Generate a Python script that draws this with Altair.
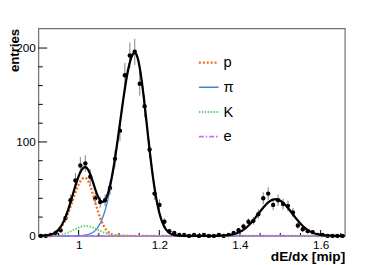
import altair as alt
import pandas as pd

# ---- histogram (bin centres, entries) ----
x_centers = [0.9061, 0.9184, 0.9306, 0.9429, 0.9552, 0.9674, 0.9797, 0.9919, 1.0042, 1.0165,
             1.0287, 1.0410, 1.0532, 1.0655, 1.0777, 1.0900, 1.1023, 1.1145, 1.1268, 1.1390,
             1.1513, 1.1635, 1.1758, 1.1881, 1.2003, 1.2126, 1.2248, 1.2371, 1.2494, 1.2616,
             1.2739, 1.2861, 1.2984, 1.3106, 1.3229, 1.3352, 1.3474, 1.3597, 1.3719, 1.3842,
             1.3965, 1.4087, 1.4210, 1.4332, 1.4455, 1.4577, 1.4700, 1.4823, 1.4945, 1.5068,
             1.5190, 1.5313, 1.5435, 1.5558, 1.5681, 1.5803, 1.5926, 1.6048, 1.6171, 1.6294,
             1.6416, 1.6539]
counts = [0, 0, 1, 3, 6, 19, 38, 59, 75, 77,
          63, 40, 36, 38, 51, 82, 112, 171, 192, 196,
          162, 138, 92, 45, 33, 15, 5, 3, 1, 1,
          0, 1, 0, 1, 0, 0, 1, 0, 1, 3,
          6, 10, 15, 16, 23, 40, 45, 33, 38, 34,
          32, 25, 11, 7, 5, 4, 1, 1, 0, 0,
          0, 0]

# ---- fit components (amplitude, mean, left/right sigma) ----
comp_keys = ["c_p", "c_pi", "c_K", "c_e"]
comp_labels = ["p", "π", "K", "e"]
comp_amp = [62.0, 195.0, 10.5, 0.0]
comp_mean = [1.015, 1.139, 1.018, 1.30]
comp_sig_left = [0.030, 0.037, 0.030, 0.05]
comp_sig_right = [0.025, 0.030, 0.030, 0.05]
comp_colors = ["#f26b1d", "#3f86d8", "#5cd65c", "#c86bff"]
comp_dash = [[2, 2], [1, 0], [1.5, 1.5], [5, 2, 1.5, 2]]
comp_width = [2.4, 1.4, 2.0, 1.6]

# extra peak only contained in the total fit
extra_amp = 39.0
extra_mean = 1.488
extra_sig = 0.042

# ---- axis ticks ----
y_major = [0, 100, 200]
y_minor = [20, 40, 60, 80, 120, 140, 160, 180]
x_major = [1.0, 1.2, 1.4, 1.6]
x_minor = [0.95, 1.05, 1.1, 1.15, 1.25, 1.3, 1.35, 1.45, 1.5, 1.55, 1.65]

FONT = "Liberation Sans"
W, H = 313, 212
xscale = alt.Scale(domain=[0.9, 1.66], nice=False, zero=False)
yscale = alt.Scale(domain=[0, 221], nice=False, zero=True)

XAXIS = alt.Axis(values=x_major, format="~g", ticks=False, domain=False,
                 grid=False, labelFontSize=12, labelPadding=4, labelFlush=False,
                 labelColor="black", title="dE/dx [mip]", titleFontSize=14,
                 titleFontWeight="bold", titleX=W, titleY=25, titleAlign="right",
                 titleBaseline="alphabetic", titleColor="black")
YAXIS = alt.Axis(values=y_major, ticks=False, domain=False, grid=False,
                 labelFontSize=12, labelPadding=3, labelColor="black",
                 title="entries", titleFontSize=13.5, titleFontWeight="bold",
                 titleAngle=270, titleAlign="right", titleBaseline="alphabetic",
                 titleX=-20, titleY=0, titleColor="black")


def X(field):
    return alt.X(field, scale=xscale, axis=XAXIS)


def Y(field):
    return alt.Y(field, scale=yscale, axis=YAXIS)


data = pd.DataFrame({"x": x_centers, "n": counts})


def gexpr(a, m, sl, sr):
    return f"{a}*exp(-0.5*pow((datum.x-{m})/(datum.x<{m}?{sl}:{sr}),2))"


calc = {k: gexpr(a, m, sl, sr) for k, a, m, sl, sr in
        zip(comp_keys, comp_amp, comp_mean, comp_sig_left, comp_sig_right)}
calc["c_d"] = gexpr(extra_amp, extra_mean, extra_sig, extra_sig)
curves = (alt.Chart(alt.sequence(0.9, 1.6605, 0.002, as_="x"))
          .transform_calculate(**calc)
          .transform_calculate(total="+".join(f"datum.{k}" for k in comp_keys + ["c_d"])))

errbars = alt.Chart(data).transform_calculate(
    lo="datum.n - sqrt(datum.n)", hi="datum.n + sqrt(datum.n)"
).mark_rule(color="#8a8a8a", strokeWidth=1.1).encode(x=X("x:Q"), y=Y("lo:Q"), y2="hi:Q")

# ticks (inside the frame, ROOT style)
ymaj = alt.Chart(pd.DataFrame({"v": y_major})).mark_rule(color="black", strokeWidth=1).encode(
    y=Y("v:Q"), x=alt.value(0), x2=alt.value(9))
ymin = alt.Chart(pd.DataFrame({"v": y_minor})).mark_rule(color="black", strokeWidth=1).encode(
    y=Y("v:Q"), x=alt.value(0), x2=alt.value(4.5))
xmaj = alt.Chart(pd.DataFrame({"v": x_major})).mark_rule(color="black", strokeWidth=1).encode(
    x=X("v:Q"), y=alt.value(H), y2=alt.value(H - 6))
xmin = alt.Chart(pd.DataFrame({"v": x_minor})).mark_rule(color="black", strokeWidth=1).encode(
    x=X("v:Q"), y=alt.value(H), y2=alt.value(H - 3))

points = alt.Chart(data).mark_circle(color="black", opacity=1, size=20).encode(
    x=X("x:Q"), y=Y("n:Q"))

total = curves.mark_line(color="black", strokeWidth=2.3).encode(x=X("x:Q"), y=Y("total:Q"))

layers = [errbars, ymaj, ymin, xmaj, xmin, points]
for k, col, dash, w in zip(comp_keys, comp_colors, comp_dash, comp_width):
    layers.append(curves.mark_line(color=col, strokeDash=dash, strokeWidth=w).encode(
        x=X("x:Q"), y=Y(f"{k}:Q")))
layers.append(total)

# legend drawn inside the frame
for i, (lab, col, dash, w) in enumerate(zip(comp_labels, comp_colors, comp_dash, comp_width)):
    ypos = 35 + 25.2 * i
    ldf = pd.DataFrame({"label": [lab]})
    layers.append(alt.Chart(ldf).mark_rule(color=col, strokeDash=dash, strokeWidth=w).encode(
        x=alt.value(164), x2=alt.value(184), y=alt.value(ypos)))
    layers.append(alt.Chart(ldf).mark_text(align="left", baseline="middle", fontSize=15,
                                           font=FONT, color="black").encode(
        x=alt.value(189), y=alt.value(ypos), text="label:N"))

chart = alt.layer(*layers).properties(
    width=W, height=H,
    autosize=alt.AutoSizeParams(type="none"),
    padding={"left": 31, "top": 18, "right": 39, "bottom": 27},
).configure_view(stroke="#6e6e6e", strokeWidth=1.2).configure_axis(
    labelFont=FONT, titleFont=FONT)

chart.save("out.html", embed_options={"renderer": "svg", "actions": False})
